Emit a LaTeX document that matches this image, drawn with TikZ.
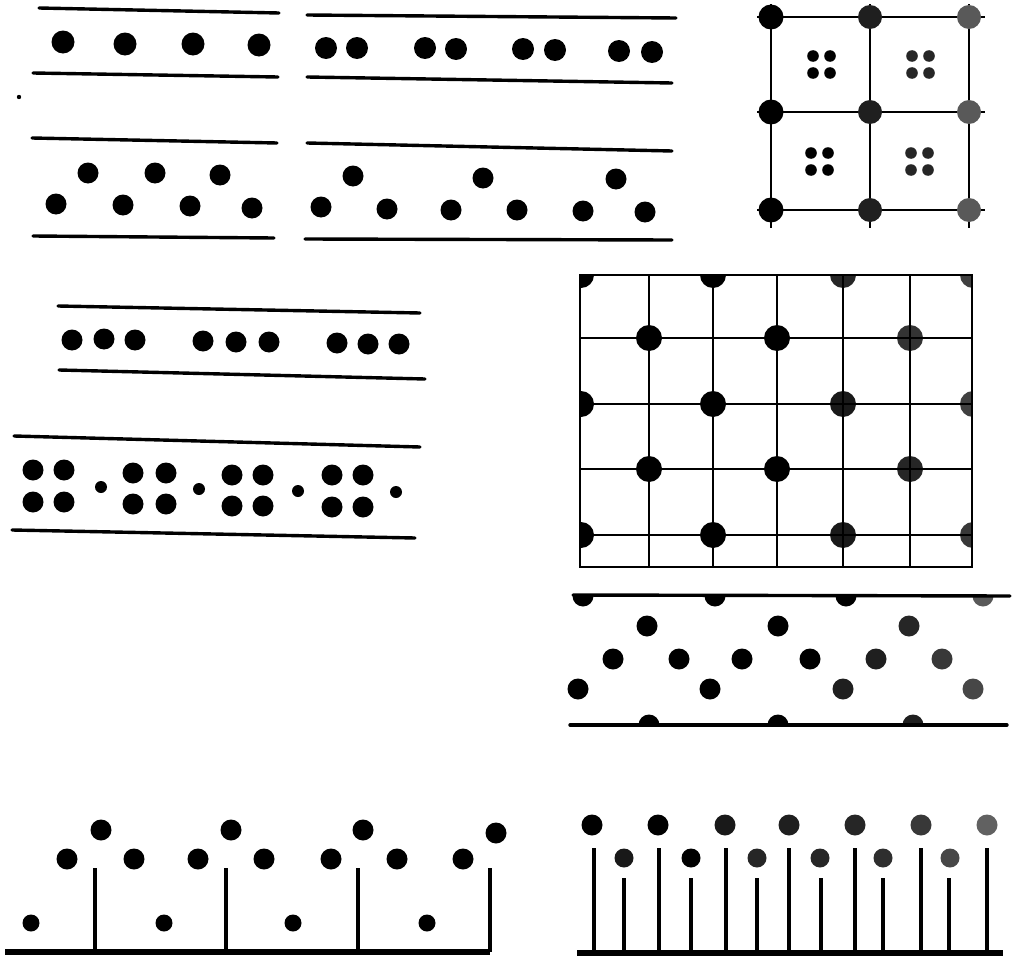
\documentclass[tikz,border=0pt]{standalone}
\newcommand\dotat[4][black]{\fill[#1] (#2,#3) circle[radius=#4*0.5pt];}
\tikzset{
  pl/.style={line width=1.7pt, line cap=round},
  gl/.style={line width=1pt},
  post/.style={line width=2pt},
  base/.style={line width=2.8pt}
}
\begin{document}
\begin{tikzpicture}[x=0.5pt,y=-0.5pt]
\useasboundingbox (0,0) rectangle (1019,958);

% ---------- Panel 1 (top left) ----------
\draw[pl] (39,8) -- (279,13);
\foreach \x/\y in {63/42,125/44,193/44,259/45} {\dotat{\x}{\y}{11.5}}
\draw[pl] (33,73) -- (278,77);
\dotat{19}{97}{2.2}
\draw[pl] (32,138) -- (277,143);
\foreach \x/\y in {88/173,155/173,220/175} {\dotat{\x}{\y}{10.5}}
\foreach \x/\y in {56/204,123/205,190/206,252/208} {\dotat{\x}{\y}{10.5}}
\draw[pl] (33,236) -- (274,238);

% ---------- Panel 2 ----------
\draw[pl] (307,15) -- (676,18);
\foreach \x/\y in {326/48,357/48,425/48,456/49,523/49,555/50,619/51,652/52} {\dotat{\x}{\y}{11}}
\draw[pl] (307,77) -- (672,83);
\draw[pl] (307,143) -- (672,151);
\foreach \x/\y in {353/176,483/178,616/179} {\dotat{\x}{\y}{10.5}}
\foreach \x/\y in {321/207,387/209,451/210,517/210,583/211,645/212} {\dotat{\x}{\y}{10.5}}
\draw[pl] (305,239) -- (672,240);

% ---------- Panel 3 (square grid, top right) ----------
\foreach \y in {17,112,210} {\draw[gl] (757,\y) -- (985,\y);}
\foreach \x in {771,870,969} {\draw[gl] (\x,4) -- (\x,228);}
\foreach \y in {17,112,210} {
  \dotat{771}{\y}{12.5}
  \dotat[black!88]{870}{\y}{12}
  \dotat[black!65]{969}{\y}{12}
}
\foreach \cx/\cy/\c in {813/56/black,912/56/black!85,811/153/black,911/153/black!85} {
  \foreach \dx in {0,17} { \foreach \dy in {0,17} {
    \dotat[\c]{\cx+\dx}{\cy+\dy}{5.8}
  }}
}

% ---------- Panel 4 (triplets) ----------
\draw[pl] (58,306) -- (420,313);
\foreach \x/\y in {72/340,104/339,135/340,203/341,236/342,269/342,337/343,368/344,399/344} {\dotat{\x}{\y}{10.5}}
\draw[pl] (59,370) -- (425,379);

% ---------- Panel 5 (quads with small dots) ----------
\draw[pl] (14,436) -- (420,447);
\foreach \xa/\xb/\yu/\yl/\xs/\ys in {33/64/470/502/101/487,133/166/473/504/199/489,232/263/475/506/298/491,332/363/475/507/396/492} {
  \dotat{\xa}{\yu}{10.5}
  \dotat{\xb}{\yu}{10.5}
  \dotat{\xa}{\yl}{10.5}
  \dotat{\xb}{\yl}{10.5}
  \dotat{\xs}{\ys}{6}
}
\draw[pl] (12,530) -- (415,538);

% ---------- Panel 6 (large grid) ----------
\begin{scope}
\clip (580,275) rectangle (972,567);
\foreach \x/\y/\c in {581/275/black,713/275/black,843/275/black!85,973/275/black!75,
  649/338/black,777/338/black,910/338/black!80,
  581/404/black,713/404/black,843/404/black!90,973/404/black!75,
  649/469/black,777/469/black,910/469/black!85,
  581/535/black,713/535/black,843/535/black!90,973/535/black!78} {
  \dotat[\c]{\x}{\y}{13}
}
\end{scope}
\draw[gl] (580,275) rectangle (972,567);
\foreach \x in {649,713,777,843,910} {\draw[gl] (\x,275) -- (\x,567);}
\foreach \y in {338,404,469,535} {\draw[gl] (580,\y) -- (972,\y);}

% ---------- Panel 7 (staggered rows) ----------
\begin{scope}
\clip (565,596) rectangle (1015,725);
\foreach \x/\c in {583/black,715/black,846/black,983/black!65} {\dotat[\c]{\x}{596}{10.5}}
\foreach \x/\c in {649/black,778/black,913/black!88} {\dotat[\c]{\x}{725}{10.5}}
\end{scope}
\draw[pl] (573,595) -- (1010,596);
\draw[pl] (570,725) -- (1007,725);
\foreach \x/\c in {647/black,778/black,909/black!85} {\dotat[\c]{\x}{626}{10.5}}
\foreach \x/\c in {613/black,679/black,742/black,810/black,876/black!88,942/black!78} {\dotat[\c]{\x}{659}{10.5}}
\foreach \x/\c in {578/black,710/black,843/black!88,973/black!72} {\dotat[\c]{\x}{689}{10.5}}

% ---------- Panel 8 (posts, bottom left) ----------
\draw[base] (5,952) -- (490,952);
\foreach \x in {95,226,358,490} {\draw[post] (\x,868) -- (\x,952);}
\foreach \x/\y in {101/830,231/830,363/830,496/833} {\dotat{\x}{\y}{10.5}}
\foreach \x in {67,134,198,264,331,397,463} {\dotat{\x}{859}{10.5}}
\foreach \x in {31,164,293,427} {\dotat{\x}{923}{8.5}}

% ---------- Panel 9 (posts, bottom right) ----------
\draw[base] (577,953) -- (1003,953);
\foreach \x in {594,659,726,789,855,921,987} {\draw[post] (\x,848) -- (\x,953);}
\foreach \x in {624,691,757,821,883,949} {\draw[post] (\x,878) -- (\x,953);}
\foreach \x/\c in {592/black,658/black,725/black!90,789/black!88,855/black!85,921/black!78,987/black!62} {\dotat[\c]{\x}{825}{10.5}}
\foreach \x/\c in {624/black!90,691/black,757/black!85,820/black!85,883/black!82,950/black!72} {\dotat[\c]{\x}{858}{9.5}}
\end{tikzpicture}
\end{document}
